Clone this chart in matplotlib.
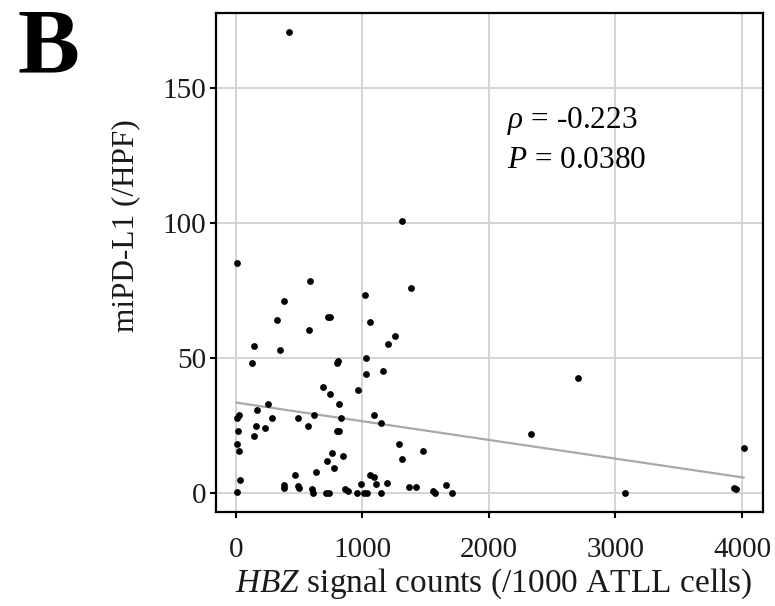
import numpy as np
import matplotlib
matplotlib.use("Agg")
import matplotlib.pyplot as plt

plt.rcParams['font.family'] = ['Liberation Serif', 'DejaVu Serif']
plt.rcParams['mathtext.fontset'] = 'custom'
plt.rcParams['mathtext.rm'] = 'Liberation Serif'
plt.rcParams['mathtext.it'] = 'Liberation Serif:italic'

# HBZ signal counts (/1000 ATLL cells) vs miPD-L1 (/HPF)
hbz = [5, 589, 376, 1021, 1382, 321, 729, 742, 1063, 574, 1258, 1205, 142, 350,
       1029, 126, 805, 800, 1024, 1166, 687, 745, 968, 816, 255, 11, 21, 168,
       287, 487, 618, 834, 1095, 1145, 16, 161, 226, 142, 566, 800, 811, 11,
       24, 1287, 1311, 1479, 761, 718, 847, 774, 632, 463, 32, 376, 376, 489,
       497, 597, 605, 711, 737, 861, 887, 958, 992, 1011, 1037, 1058, 1095,
       1103, 1150, 1197, 1366, 1421, 1558, 1571, 1661, 11, 1705, 2336, 3075,
       3940, 3955, 4013, 2700, 417, 1310]
pdl1 = [85.3, 78.5, 71.3, 73.3, 76.1, 64.2, 65.3, 65.3, 63.4, 60.3, 58.1, 55.1,
        54.4, 53.2, 50.1, 48.3, 49.1, 48.4, 44.0, 45.3, 39.3, 36.9, 38.1, 33.2,
        33.2, 27.9, 28.9, 30.8, 27.9, 27.9, 29.1, 27.9, 29.1, 26.0, 23.0, 24.9,
        24.1, 21.1, 25.0, 23.0, 23.0, 18.2, 15.8, 18.2, 12.8, 15.8, 15.0, 12.1,
        13.9, 9.3, 8.0, 6.7, 4.9, 3.0, 2.0, 2.7, 2.1, 1.5, 0.2, 0, 0, 1.7, 0.9,
        0, 3.4, 0, 0, 6.7, 6.0, 3.4, 0, 3.7, 2.2, 2.2, 0.9, 0, 3.0, 0.6, 0,
        21.9, 0, 2.0, 1.5, 16.9, 42.5, 170.8, 100.9]
rho_text = "-0.223"
p_text = "0.0380"

x = np.array(hbz, dtype=float)
y = np.array(pdl1, dtype=float)

fig = plt.figure(figsize=(7.75, 6.06), dpi=100)
ax = fig.add_axes([0.2787, 0.155, 0.7058, 0.8235])

ax.grid(True, color='#d4d4d4', linewidth=1.4, zorder=0)
ax.set_axisbelow(True)

# linear fit line over data range
k, b = np.polyfit(x, y, 1)
xs = np.array([x.min(), x.max()])
ax.plot(xs, k * xs + b, color='#a8a8a8', linewidth=1.6, zorder=2)

ax.scatter(x, y, s=24, color='black', zorder=3, linewidths=0)

ax.set_xlim(-158, 4166)
ax.set_ylim(-7.0, 177.9)
ax.set_xticks([0, 1000, 2000, 3000, 4000])
ax.set_yticks([0, 50, 100, 150])
ax.tick_params(axis='both', labelsize=21, length=4, width=1.5, color='black',
               labelcolor='#1a1a1a')
ax.tick_params(axis='x', pad=14)
ax.tick_params(axis='y', pad=3)
for s in ax.spines.values():
    s.set_linewidth(1.6)
    s.set_color('black')

ax.text(2140, 135.2, r'$\rho$ = ' + rho_text, fontsize=22.5, ha='left', va='baseline')
ax.text(2140, 120.4, r'$P$ = ' + p_text, fontsize=22.5, ha='left', va='baseline')

fig.text(494 / 775, 1 - 584 / 606, r'$HBZ$ signal counts (/1000 ATLL cells)',
         fontsize=24, ha='center', va='center', color='#1a1a1a')
fig.text(126 / 775, 1 - 226 / 606, 'miPD-L1 (/HPF)', fontsize=22.5, rotation=90,
         ha='center', va='center', color='#1a1a1a')
fig.text(0.022, 1 - 72 / 606, 'B', fontsize=67, fontweight='bold', ha='left',
         va='baseline')

fig.savefig('out.png', dpi=100)
